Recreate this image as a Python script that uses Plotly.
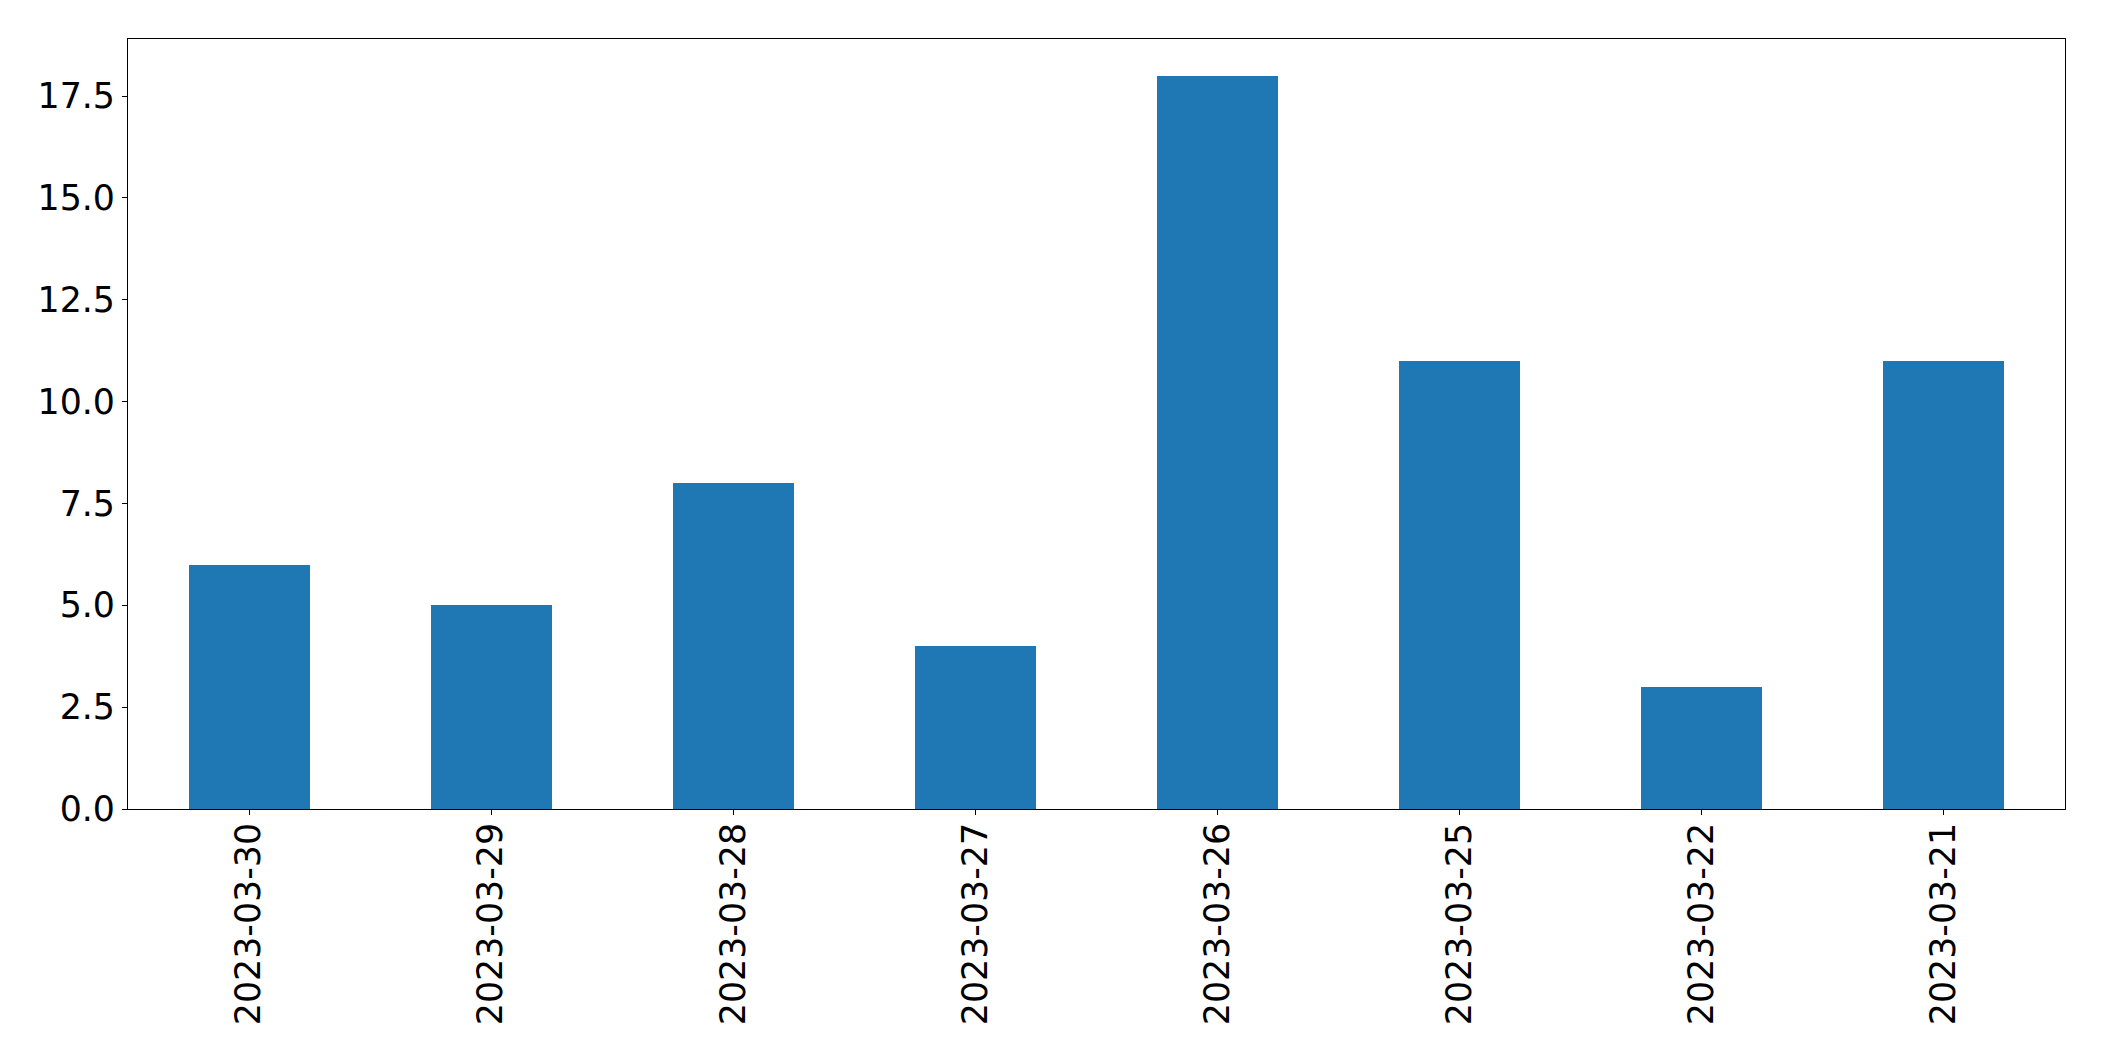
import plotly.graph_objects as go

dates = ["2023-03-30", "2023-03-29", "2023-03-28", "2023-03-27",
         "2023-03-26", "2023-03-25", "2023-03-22", "2023-03-21"]
counts = [6, 5, 8, 4, 18, 11, 3, 11]
ytick_vals = [0, 2.5, 5, 7.5, 10, 12.5, 15, 17.5]

W, H = 2104, 1061
L, R, T, B = 127.7, 38.7, 39.3, 251.7

fig = go.Figure(go.Bar(
    x=list(range(len(dates))), y=counts, width=0.5,
    marker=dict(color="#1f77b4", line=dict(width=0)),
))

font = dict(family="DejaVu Sans", size=34.8, color="black")
fig.update_layout(
    width=W, height=H,
    margin=dict(l=L, r=R, t=T, b=B, pad=0),
    paper_bgcolor="white", plot_bgcolor="white",
    showlegend=False, bargap=0,
    font=font,
)
fig.update_xaxes(
    range=[-0.5, len(dates) - 0.5],
    tickmode="array", tickvals=list(range(len(dates))), ticktext=dates,
    tickangle=-90, ticks="outside", ticklen=5, tickwidth=1.1, tickcolor="black",
    ticklabelstandoff=-6,
    showline=True, linecolor="black", linewidth=1.1, mirror=True,
    showgrid=False, zeroline=False, tickfont=font,
)
fig.update_yaxes(
    range=[0, 18.9],
    tickmode="array", tickvals=ytick_vals,
    ticktext=[f"{v:.1f}" for v in ytick_vals],
    ticks="outside", ticklen=5, tickwidth=1.1, tickcolor="black",
    showline=True, linecolor="black", linewidth=1.1, mirror=True,
    showgrid=False, zeroline=False, tickfont=font,
)

fig.write_html(
    "out.html",
    config={"displayModeBar": False},
    post_script="document.body.style.margin='0px';document.body.style.overflow='hidden';",
)
